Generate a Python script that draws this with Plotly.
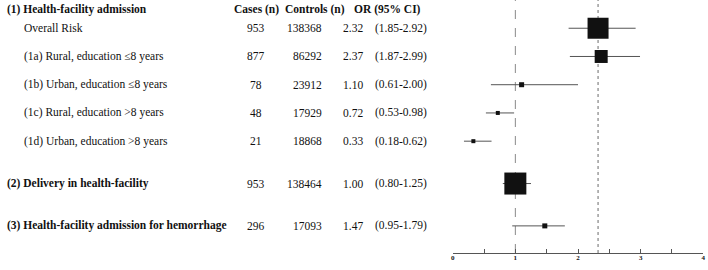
import plotly.graph_objects as go

# ---------------- data ----------------
labels = ["Overall Risk",
          "(1a) Rural, education \u22648 years",
          "(1b) Urban, education \u22648 years",
          "(1c) Rural, education >8 years",
          "(1d) Urban, education >8 years",
          "(2) Delivery in health-facility",
          "(3) Health-facility admission for hemorrhage"]
cases = [953, 877, 78, 48, 21, 953, 296]
controls = [138368, 86292, 23912, 17929, 18868, 138464, 17093]
odds = [2.32, 2.37, 1.10, 0.72, 0.33, 1.00, 1.47]
ci_lo = [1.85, 1.87, 0.61, 0.53, 0.18, 0.80, 0.95]
ci_hi = [2.92, 2.99, 2.00, 0.98, 0.62, 1.25, 1.79]
group_header = "(1) Health-facility admission"
col_headers = ["Cases (n)", "Controls (n)", "OR (95% CI)"]
x_ticks = [0, 0.5, 1, 1.5, 2, 2.5, 3, 3.5, 4]
x_tick_text = ["0", "", "1", "", "2", "", "3", "", "4"]

# ---------------- layout / style ----------------
row_pos = [1, 2, 3, 4, 5, 6.5, 8]
header_pos = 0.34
bold_rows = [False, False, False, False, False, True, True]
box_size = [21, 13, 5, 4, 4, 22, 5]
W, H = 708, 270
R = 4
PW = W - R
FONT = "Liberation Serif, Times New Roman, serif"
FS = 11.5
TXT = "#111111"

def px(x):
    return x / PW

fig = go.Figure()
fig.add_trace(go.Scatter(
    x=odds, y=row_pos, mode="markers",
    marker=dict(symbol="square", size=box_size, color="#111111",
                opacity=1, line=dict(width=0)),
    error_x=dict(type="data", symmetric=False,
                 array=[h - o for h, o in zip(ci_hi, odds)],
                 arrayminus=[o - l for l, o in zip(ci_lo, odds)],
                 thickness=1, width=0, color="#555555"),
    hoverinfo="skip", showlegend=False, cliponaxis=False,
))

ann = []
def add_text(x, y, text, anchor, bold=False):
    ann.append(dict(xref="paper", yref="y", x=px(x), y=y,
                    text=("<b>%s</b>" % text) if bold else text,
                    showarrow=False, xanchor=anchor, yanchor="middle",
                    font=dict(family=FONT, size=FS, color=TXT)))

add_text(5, header_pos, group_header, "left", True)
add_text(256, header_pos, col_headers[0], "center", True)
add_text(283, header_pos, col_headers[1], "left", True)
add_text(352, header_pos, col_headers[2], "left", True)

for i, lab in enumerate(labels):
    y = row_pos[i]
    if bold_rows[i]:
        add_text(5, y, lab, "left", True)
    else:
        add_text(22, y, lab, "left")
    add_text(256, y, str(cases[i]), "center")
    add_text(324, y, str(controls[i]), "right")
    add_text(365, y, "%.2f" % odds[i], "right")
    add_text(373, y, "(%.2f-%.2f)" % (ci_lo[i], ci_hi[i]), "left")

shapes = [
    dict(type="line", xref="x", yref="paper", x0=1, x1=1, y0=0, y1=1,
         line=dict(color="#8a8a8a", width=1, dash="dash"), layer="below"),
    dict(type="line", xref="x", yref="paper", x0=odds[0], x1=odds[0], y0=0, y1=1,
         line=dict(color="#6a6a6a", width=1, dash="dot"), layer="below"),
]

fig.update_layout(
    width=W, height=H,
    margin=dict(l=0, r=R, t=0, b=17, autoexpand=False),
    paper_bgcolor="white", plot_bgcolor="white",
    annotations=ann, shapes=shapes,
    xaxis=dict(domain=[452.7 / PW, min(1.0, 703.3 / PW)], range=[0, 4],
               tickvals=x_ticks, ticktext=["<b>%s</b>" % t if t else "" for t in x_tick_text],
               ticks="inside", ticklen=4, tickwidth=1, tickcolor="#555555",
               showline=True, linecolor="#555555", linewidth=1,
               showgrid=False, zeroline=False, fixedrange=True,
               tickfont=dict(family=FONT, size=7, color=TXT),
               ticklabelstandoff=-2, ticklabeloverflow="allow"),
    yaxis=dict(range=[8.96, 0], visible=False, showgrid=False,
               zeroline=False, fixedrange=True),
)

fig.write_html("out.html",
               config={"displayModeBar": False, "staticPlot": True},
               post_script="document.body.style.margin='0';document.body.style.overflow='hidden';")
